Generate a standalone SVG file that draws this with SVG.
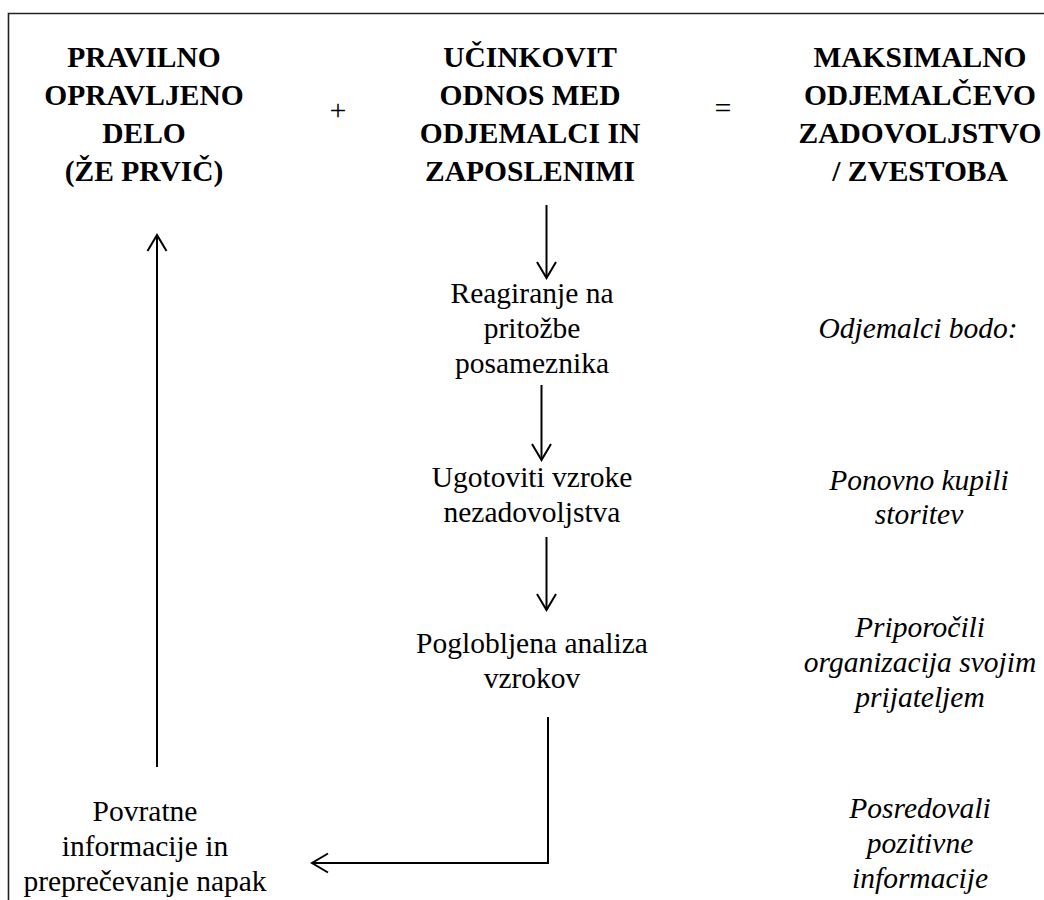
<svg xmlns="http://www.w3.org/2000/svg" width="1044" height="900" viewBox="0 0 1044 900">
<style>
text{font-family:"Liberation Serif","Times New Roman",serif;fill:#000;text-anchor:middle}
.h{font-weight:bold;font-size:29.5px}
.t{font-size:29.5px}
.i{font-size:29.5px;font-style:italic}
.op{font-size:30px}
.c{stroke:#000;stroke-width:2;fill:none}
.frame{stroke:#222;stroke-width:1.6;fill:none}
</style>
<defs>
<marker id="ah" markerUnits="userSpaceOnUse" markerWidth="30" markerHeight="30" viewBox="-20 -15 30 30" refX="0" refY="0" orient="auto">
<path d="M -16,-9.5 L 0,0 L -16,9.5" stroke="#000" stroke-width="2" fill="none" stroke-linejoin="miter"/>
</marker>
</defs>
<rect width="1044" height="900" fill="#fff"/>
<path class="frame" d="M 8.5,900 L 8.5,13.5 L 1044,13.5"/>
<g id="n1"><text class="h" x="144" y="67">PRAVILNO</text><text class="h" x="144" y="105">OPRAVLJENO</text><text class="h" x="144" y="143">DELO</text><text class="h" x="144" y="181">(ŽE PRVIČ)</text></g>
<g id="plus"><text class="op" x="338" y="120">+</text></g>
<g id="n2"><text class="h" x="530" y="67">UČINKOVIT</text><text class="h" x="530" y="105">ODNOS MED</text><text class="h" x="530" y="143">ODJEMALCI IN</text><text class="h" x="530" y="181">ZAPOSLENIMI</text></g>
<g id="eq"><text class="op" x="723" y="118">=</text></g>
<g id="n3"><text class="h" x="920" y="67">MAKSIMALNO</text><text class="h" x="920" y="105">ODJEMALČEVO</text><text class="h" x="920" y="143">ZADOVOLJSTVO</text><text class="h" x="920" y="181">/ ZVESTOBA</text></g>
<g id="n4"><text class="t" x="532" y="303">Reagiranje na</text><text class="t" x="532" y="338">pritožbe</text><text class="t" x="532" y="373">posameznika</text></g>
<g id="n5"><text class="t" x="532" y="487">Ugotoviti vzroke</text><text class="t" x="532" y="522">nezadovoljstva</text></g>
<g id="n6"><text class="t" x="532" y="653">Poglobljena analiza</text><text class="t" x="532" y="688">vzrokov</text></g>
<g id="n7"><text class="t" x="145" y="821">Povratne</text><text class="t" x="145" y="856">informacije in</text><text class="t" x="145" y="891">preprečevanje napak</text></g>
<g id="r1"><text class="i" x="918" y="338">Odjemalci bodo:</text></g>
<g id="r2"><text class="i" x="919" y="490">Ponovno kupili</text><text class="i" x="919" y="524">storitev</text></g>
<g id="r3"><text class="i" x="920" y="637">Priporočili</text><text class="i" x="920" y="672">organizacija svojim</text><text class="i" x="920" y="707">prijateljem</text></g>
<g id="r4"><text class="i" x="920" y="818">Posredovali</text><text class="i" x="920" y="853">pozitivne</text><text class="i" x="920" y="888">informacije</text></g>
<g id="connectors">
<path class="c" d="M 546.5,205 L 546.5,278" marker-end="url(#ah)"/>
<path class="c" d="M 541.5,385 L 541.5,460" marker-end="url(#ah)"/>
<path class="c" d="M 546.5,537 L 546.5,610" marker-end="url(#ah)"/>
<path class="c" d="M 548,717 L 548,863 L 312,863" marker-end="url(#ah)"/>
<path class="c" d="M 157,767 L 157,235" marker-end="url(#ah)"/>
</g>
</svg>
